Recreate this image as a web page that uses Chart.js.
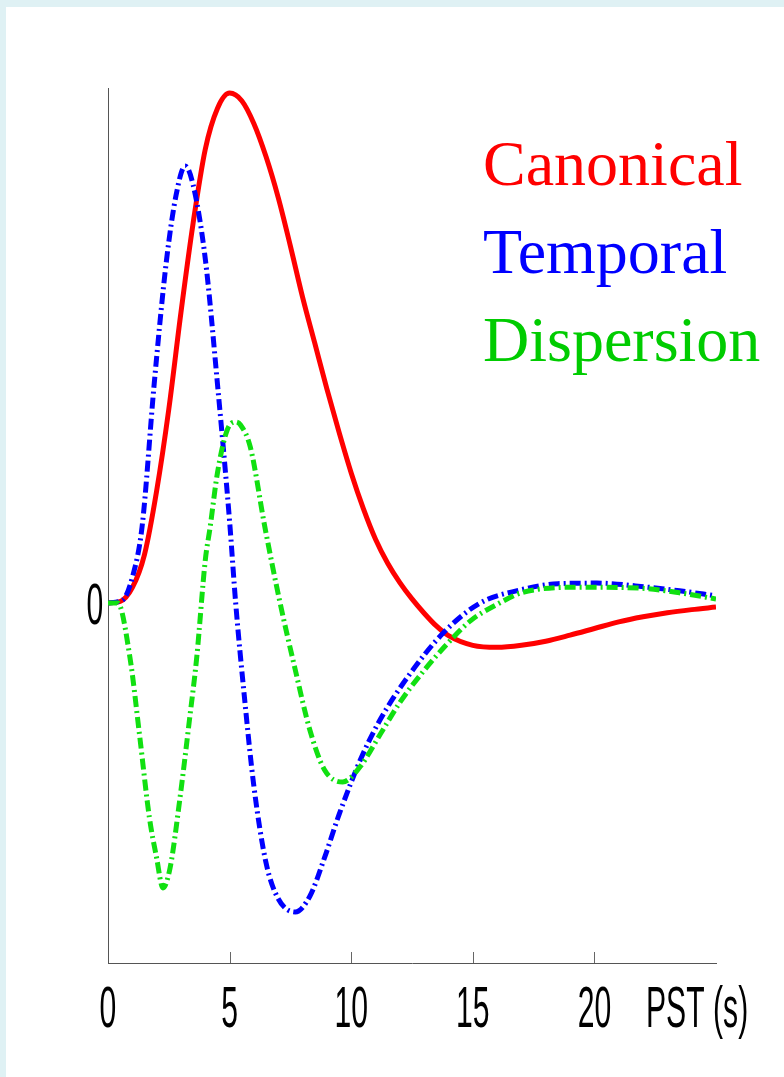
<!DOCTYPE html>
<html>
<head>
<meta charset="utf-8">
<script src="https://cdn.jsdelivr.net/npm/chart.js@4.4.1/dist/chart.umd.min.js"></script>
<style>
  html, body { margin: 0; padding: 0; background: #dff1f4; width: 784px; height: 1077px; overflow: hidden; }
  #panel { position: absolute; left: 6px; top: 7px; width: 778px; height: 1070px; background: #ffffff; }
  canvas { display: block; }
</style>
</head>
<body>
<div id="panel"><canvas id="hrf" width="778" height="1070"></canvas></div>
<script>
// Peri-stimulus time (s) and response of each basis function
const canonicalT = [0, 0.5, 1, 1.5, 2, 2.5, 3, 3.5, 4, 4.5, 5, 5.5, 6, 6.5, 7, 7.5, 8, 8.5, 9, 9.5, 10, 10.5, 11, 11.5, 12, 12.5, 13, 13.5, 14, 15, 16, 17, 18, 19, 20, 21, 22, 23, 24, 25];
const canonicalV = [0, 0.003, 0.03, 0.095, 0.22, 0.38, 0.57, 0.745, 0.89, 0.97, 1.0, 0.985, 0.94, 0.875, 0.795, 0.70, 0.60, 0.51, 0.42, 0.335, 0.255, 0.185, 0.125, 0.078, 0.04, 0.008, -0.02, -0.045, -0.064, -0.083, -0.087, -0.083, -0.075, -0.063, -0.05, -0.037, -0.027, -0.019, -0.013, -0.008];

const temporalT = [0, 0.6, 1.0, 1.4, 1.9, 2.4, 2.8, 3.17, 3.5, 4.0, 4.5, 5.0, 5.25, 5.6, 6.0, 6.5, 7.0, 7.7, 8.3, 8.9, 9.5, 10.4, 11.2, 12.4, 13.8, 15.3, 16.9, 18.5, 20.1, 22.2, 23.5, 25];
const temporalV = [0, 0.006, 0.05, 0.149, 0.43, 0.67, 0.80, 0.857, 0.82, 0.675, 0.43, 0.16, 0.0, -0.18, -0.36, -0.51, -0.58, -0.606, -0.575, -0.50, -0.415, -0.305, -0.228, -0.14, -0.058, 0.0, 0.025, 0.038, 0.039, 0.031, 0.024, 0.014];

const dispersionT = [0, 0.4, 0.9, 1.3, 1.7, 2.0, 2.26, 2.55, 2.95, 3.35, 3.65, 4.0, 4.2, 4.5, 4.9, 5.25, 5.45, 5.85, 6.45, 7.05, 7.7, 8.3, 8.9, 9.65, 10.35, 11.2, 12.0, 12.95, 13.95, 14.9, 16.1, 17.0, 19.4, 21.9, 23.5, 25];
const dispersionV = [0, 0, -0.106, -0.26, -0.42, -0.50, -0.559, -0.52, -0.386, -0.229, -0.106, 0.084, 0.149, 0.255, 0.339, 0.355, 0.349, 0.306, 0.149, 0.006, -0.131, -0.249, -0.327, -0.351, -0.322, -0.257, -0.195, -0.135, -0.08, -0.035, 0.0, 0.02, 0.031, 0.029, 0.02, 0.008];

const seriesNames = ['Canonical', 'Temporal', 'Dispersion'];
const xTickValues = [0, 5, 10, 15, 20];
const xTickLabels = ['0', '5', '10', '15', '20'];
const yTickValues = [0];
const yTickLabels = ['0'];
const xAxisTitle = 'PST (s)';

const pts = (t, v) => t.map((x, i) => ({ x: x, y: v[i] }));
const dashDot = [11, 4, 2, 4];

// Axis labels in a tall, condensed face, plus inward tick marks and the coloured key
const annotate = {
  id: 'annotate',
  afterDraw(chart) {
    const ctx = chart.ctx;
    const xs = chart.scales.x, ys = chart.scales.y;
    const area = chart.chartArea;

    ctx.save();
    ctx.strokeStyle = '#666';
    ctx.lineWidth = 1;
    xTickValues.forEach(v => {
      if (v === 0) return;
      const px = Math.round(xs.getPixelForValue(v)) + 0.5;
      ctx.beginPath();
      ctx.moveTo(px, area.bottom);
      ctx.lineTo(px, area.bottom - 11);
      ctx.stroke();
    });
    ctx.restore();

    const squeezed = (text, x, y, align) => {
      ctx.save();
      ctx.translate(x, y);
      ctx.scale(0.52, 1);
      ctx.font = '58px "Liberation Sans", Arial, sans-serif';
      ctx.fillStyle = '#000';
      ctx.textAlign = align;
      ctx.textBaseline = 'alphabetic';
      ctx.fillText(text, 0, 0);
      ctx.restore();
    };
    const labelBase = area.bottom + 64;
    xTickValues.forEach((v, i) => squeezed(xTickLabels[i], xs.getPixelForValue(v), labelBase, 'center'));
    squeezed(xAxisTitle, xs.getPixelForValue(25) - 70, labelBase, 'left');
    yTickValues.forEach((v, i) => squeezed(yTickLabels[i], area.left - 13, ys.getPixelForValue(v) + 21, 'center'));

    ctx.save();
    ctx.font = '64px "Liberation Serif", "Times New Roman", serif';
    ctx.textAlign = 'left';
    ctx.textBaseline = 'alphabetic';
    const keyColors = ['#ff0000', '#0000ff', '#00cc00'];
    seriesNames.forEach((name, i) => {
      ctx.fillStyle = keyColors[i];
      ctx.fillText(name, area.left + 375, area.top + 97 + i * 88);
    });
    ctx.restore();
  }
};

new Chart(document.getElementById('hrf'), {
  type: 'line',
  data: {
    datasets: [
      { label: seriesNames[0], data: pts(canonicalT, canonicalV), borderColor: '#ff0000', borderWidth: 5, order: 3 },
      { label: seriesNames[1], data: pts(temporalT, temporalV), borderColor: '#0000ff', borderWidth: 5, borderDash: dashDot, order: 2 },
      { label: seriesNames[2], data: pts(dispersionT, dispersionV), borderColor: '#11e011', borderWidth: 5, borderDash: dashDot, order: 1 }
    ]
  },
  options: {
    responsive: false,
    devicePixelRatio: 1,
    animation: false,
    events: [],
    layout: { padding: { left: 102, top: 81, right: 68, bottom: 114 } },
    elements: {
      point: { radius: 0 },
      line: { cubicInterpolationMode: 'monotone', borderCapStyle: 'butt', borderJoinStyle: 'round', fill: false }
    },
    plugins: { legend: { display: false }, tooltip: { enabled: false } },
    scales: {
      x: {
        type: 'linear', min: 0, max: 25,
        ticks: { display: false },
        grid: { display: false },
        border: { display: true, color: '#555', width: 1 },
        afterFit: s => { s.height = 0; }
      },
      y: {
        type: 'linear', min: -0.706, max: 1.01,
        ticks: { display: false },
        grid: { display: false },
        border: { display: true, color: '#555', width: 1 },
        afterFit: s => { s.width = 0; }
      }
    }
  },
  plugins: [annotate]
});
</script>
</body>
</html>
